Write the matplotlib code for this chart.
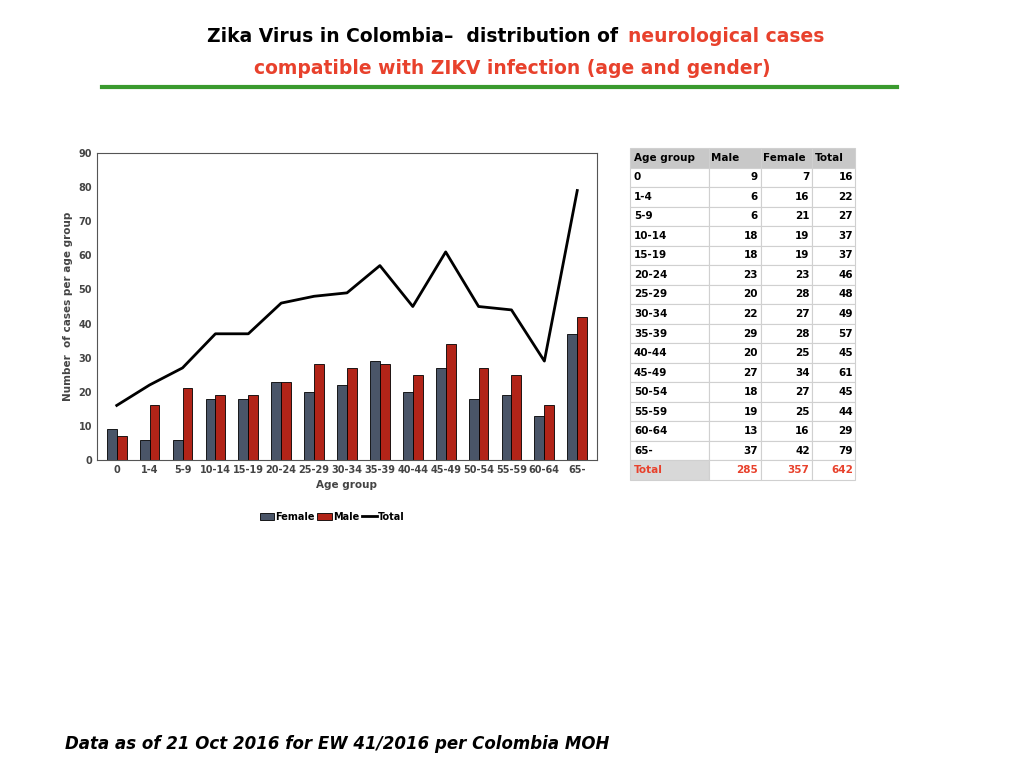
import matplotlib
matplotlib.use('Agg')
import matplotlib.pyplot as plt
import numpy as np

age_groups = ['0', '1-4', '5-9', '10-14', '15-19', '20-24', '25-29', '30-34',
              '35-39', '40-44', '45-49', '50-54', '55-59', '60-64', '65-']
col_male = [9, 6, 6, 18, 18, 23, 20, 22, 29, 20, 27, 18, 19, 13, 37]
col_female = [7, 16, 21, 19, 19, 23, 28, 27, 28, 25, 34, 27, 25, 16, 42]
totals = [16, 22, 27, 37, 37, 46, 48, 49, 57, 45, 61, 45, 44, 29, 79]
sum_row = ['285', '357', '642']

RED = '#e8412c'
fig = plt.figure(figsize=(10.24, 7.68), dpi=100)

# title
fig.text(0.610, 1 - 36 / 768, 'Zika Virus in Colombia\u2013  distribution of ', ha='right', va='center',
         fontsize=13.5, fontweight='bold', color='black')
fig.text(0.613, 1 - 36 / 768, 'neurological cases', ha='left', va='center',
         fontsize=13.5, fontweight='bold', color=RED)
fig.text(0.5, 1 - 69 / 768, 'compatible with ZIKV infection (age and gender)', ha='center', va='center',
         fontsize=13.5, fontweight='bold', color=RED)
fig.add_artist(plt.Line2D([102 / 1024, 897 / 1024], [1 - 87 / 768] * 2, color='#3a9a2e', lw=3))

# chart
ax = fig.add_axes([97 / 1024, 1 - 460 / 768, 500 / 1024, 307 / 768])
x = np.arange(len(age_groups))
w = 0.3
ax.bar(x - w / 2, col_male, w, color='#4a5568', edgecolor='black', lw=0.6, label='Female')
ax.bar(x + w / 2, col_female, w, color='#b22418', edgecolor='black', lw=0.6, label='Male')
ax.plot(x, totals, color='black', lw=2, label='Total')
ax.set_xlim(-0.6, len(age_groups) - 0.4)
ax.set_ylim(0, 90)
ax.set_yticks(range(0, 91, 10))
ax.set_xticks(x)
ax.set_xticklabels(age_groups)
ax.tick_params(labelsize=7, colors='#444444', length=0)
for lab in ax.get_xticklabels() + ax.get_yticklabels():
    lab.set_fontweight('bold')
ax.set_xlabel('Age group', fontsize=7.5, fontweight='bold', color='#444444')
ax.set_ylabel('Number  of cases per age group', fontsize=7.5, fontweight='bold', color='#444444')
for s in ax.spines.values():
    s.set_color('#555555')
h, l = ax.get_legend_handles_labels()
order = [l.index('Female'), l.index('Male'), l.index('Total')]
ax.legend([h[i] for i in order], [l[i] for i in order], loc='upper center',
          bbox_to_anchor=(0.47, -0.14), ncol=3, frameon=False,
          handlelength=1.5, columnspacing=0.3, handletextpad=0.1, prop={'weight': 'bold', 'size': 7})

# table
tax = fig.add_axes([630 / 1024, 1 - 480 / 768, 225 / 1024, 332 / 768])
tax.axis('off')
cells = [[a, str(m), str(f), str(t)] for a, m, f, t in zip(age_groups, col_male, col_female, totals)]
cells.append(['Total'] + sum_row)
tbl = tax.table(cellText=cells, colLabels=['Age group', 'Male', 'Female', 'Total'],
                bbox=[0, 0, 1, 1], colWidths=[0.35, 0.23, 0.23, 0.19])
tbl.auto_set_font_size(False)
nrows = len(cells) + 1
for (r, c), cell in tbl.get_celld().items():
    cell.set_edgecolor('#d0d0d0')
    cell.set_linewidth(0.8)
    txt = cell.get_text()
    txt.set_fontsize(7.5)
    txt.set_fontweight('bold')
    cell.PAD = 0.05
    if c == 0 or r == 0:
        cell._loc = 'left'
        txt.set_ha('left')
    else:
        cell._loc = 'right'
        txt.set_ha('right')
    if r == 0:
        cell.set_facecolor('#c8c8c8')
    if r == nrows - 1:
        txt.set_color(RED)
        if c == 0:
            cell.set_facecolor('#d8d8d8')

fig.text(65 / 1024, 1 - 744 / 768, 'Data as of 21 Oct 2016 for EW 41/2016 per Colombia MOH',
         fontsize=12, fontweight='bold', style='italic', va='center')

fig.savefig('out.png', dpi=100)
